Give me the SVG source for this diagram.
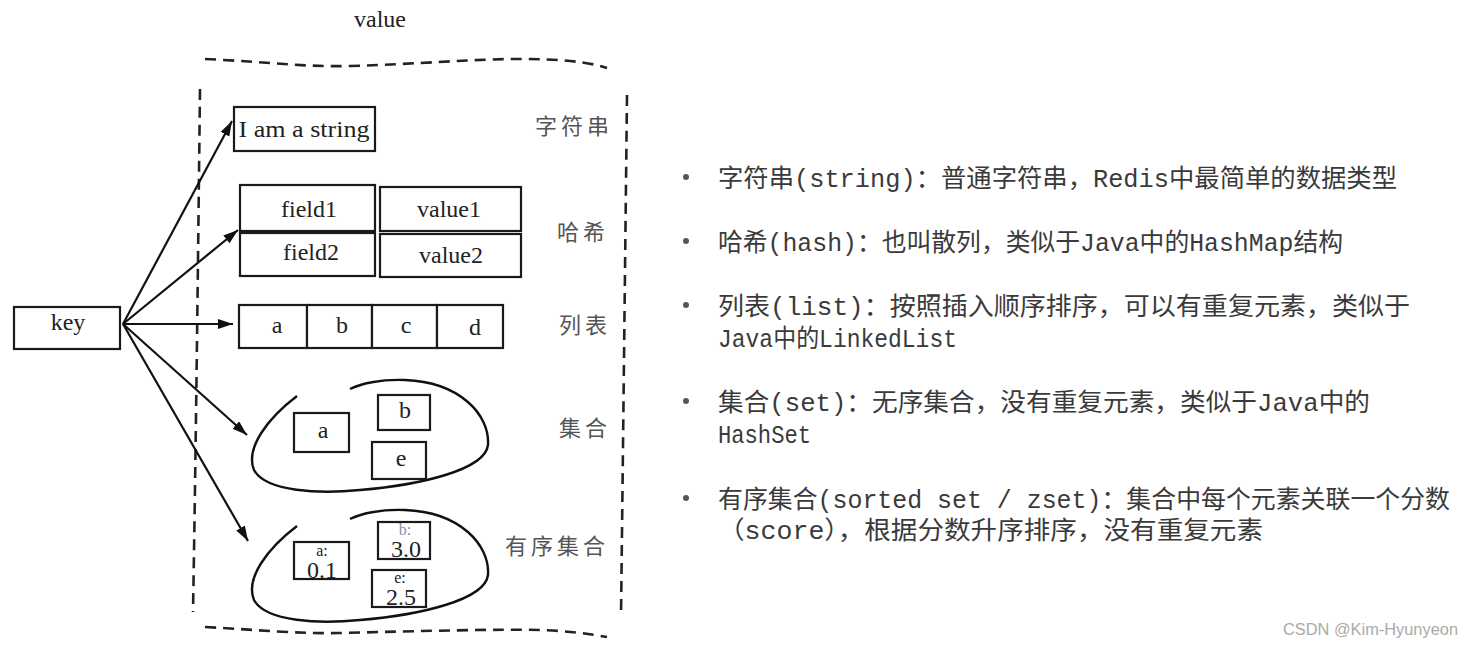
<svg xmlns="http://www.w3.org/2000/svg" width="1473" height="648" viewBox="0 0 1473 648">
<defs>
<marker id="ah" markerUnits="userSpaceOnUse" markerWidth="16" markerHeight="12" refX="15" refY="5" orient="auto">
<path d="M0,0 L15,5 L0,10 z" fill="#111"/>
</marker>
<style>
.box{fill:#fff;stroke:#1a1a1a;stroke-width:2.2}
.blob{fill:none;stroke:#111;stroke-width:2.4}
.dash{fill:none;stroke:#222;stroke-width:2.6;stroke-dasharray:11 7}
.lbl{font-family:"Liberation Serif",serif;font-size:24px;fill:#222;text-anchor:middle}
.small{font-size:16px}
.blue{fill:#7f8fb8}
.cn{font-family:"Noto Sans CJK SC",sans-serif;font-size:22px;fill:#555;letter-spacing:4px}
.desc{font-family:"Liberation Mono","Noto Sans CJK SC",monospace;font-size:25px;fill:#3a3a3a}
.conn{fill:none;stroke:#111;stroke-width:2.2;marker-end:url(#ah)}
</style>
</defs>
<rect width="1473" height="648" fill="#fff"/>

<text class="lbl" x="380" y="27" font-size="23">value</text>

<g id="frame">
<path class="dash" d="M205,59 C270,62 300,67 350,66 C420,64 470,59 520,59 C560,59 590,62 607,68"/>
<path class="dash" d="M205,627 C260,630 300,634 340,633 C420,631 500,629 540,630 C570,631 590,634 607,637"/>
<path class="dash" d="M200,89 C198,260 196,440 193,612"/>
<path class="dash" d="M627,95 C625,270 623,450 621,617"/>
</g>

<g id="labels">
<text class="cn" x="535" y="134">字符串</text>
<text class="cn" x="557" y="240">哈希</text>
<text class="cn" x="559" y="333">列表</text>
<text class="cn" x="559" y="436">集合</text>
<text class="cn" x="505" y="554">有序集合</text>
</g>

<g id="key">
<rect class="box" x="14" y="307" width="106" height="42"/>
<text class="lbl" x="68" y="330">key</text>
</g>

<g id="string">
<rect class="box" x="234" y="107" width="141" height="44"/>
<text class="lbl" x="304" y="137" font-size="26" textLength="131" lengthAdjust="spacingAndGlyphs">I am a string</text>
</g>

<g id="hash">
<rect class="box" x="240" y="185" width="135" height="46"/>
<rect class="box" x="380" y="187" width="141" height="44"/>
<rect class="box" x="240" y="233" width="135" height="43"/>
<rect class="box" x="380" y="234" width="141" height="43"/>
<text class="lbl" x="309" y="217">field1</text>
<text class="lbl" x="449" y="217">value1</text>
<text class="lbl" x="311" y="260">field2</text>
<text class="lbl" x="451" y="263">value2</text>
</g>

<g id="list">
<rect class="box" x="239" y="305" width="68" height="43"/>
<rect class="box" x="307" y="305" width="65" height="43"/>
<rect class="box" x="372" y="305" width="65" height="43"/>
<rect class="box" x="437" y="305" width="66" height="43"/>
<text class="lbl" x="277" y="333">a</text>
<text class="lbl" x="342" y="333">b</text>
<text class="lbl" x="406" y="333">c</text>
<text class="lbl" x="475" y="335">d</text>
</g>

<g id="set">
<path class="blob" d="M297,396 C268,418 245,448 254,470 C266,492 320,494 360,490 C420,485 485,470 488,445 C490,415 460,382 405,380 C380,379 360,384 350,389"/>
<rect class="box" x="294" y="413" width="55" height="39"/>
<rect class="box" x="378" y="395" width="52" height="35"/>
<rect class="box" x="372" y="442" width="54" height="37"/>
<text class="lbl" x="323" y="438">a</text>
<text class="lbl" x="405" y="418">b</text>
<text class="lbl" x="401" y="466">e</text>
</g>

<g id="zset">
<path class="blob" d="M297,526 C268,548 245,578 254,600 C266,622 320,624 360,620 C420,615 485,600 488,575 C490,545 460,512 405,510 C380,509 360,514 350,519"/>
<rect class="box" x="294" y="542" width="55" height="37"/>
<rect class="box" x="378" y="522" width="52" height="37"/>
<rect class="box" x="372" y="570" width="54" height="37"/>
<text class="lbl small" x="322" y="556">a:</text>
<text class="lbl" x="322" y="578" font-size="24">0.1</text>
<text class="lbl small blue" x="405" y="535">b:</text>
<text class="lbl" x="406" y="557" font-size="24">3.0</text>
<text class="lbl small" x="400" y="583">e:</text>
<text class="lbl" x="401" y="605" font-size="24">2.5</text>
</g>

<g id="connectors">
<path class="conn" d="M123,324 L232,121"/>
<path class="conn" d="M123,324 L238,230"/>
<path class="conn" d="M123,324 L233,324"/>
<path class="conn" d="M123,324 L247,435"/>
<path class="conn" d="M123,324 L248,541"/>
</g>

<g id="description">
<g fill="#555">
<circle cx="686" cy="177" r="3"/>
<circle cx="686" cy="241" r="3"/>
<circle cx="686" cy="305" r="3"/>
<circle cx="686" cy="401" r="3"/>
<circle cx="686" cy="498" r="3"/>
</g>
<text class="desc" x="718" y="187" textLength="679" lengthAdjust="spacingAndGlyphs">字符串(string)：普通字符串，Redis中最简单的数据类型</text>
<text class="desc" x="718" y="251" textLength="625" lengthAdjust="spacingAndGlyphs">哈希(hash)：也叫散列，类似于Java中的HashMap结构</text>
<text class="desc" x="718" y="315" textLength="692" lengthAdjust="spacingAndGlyphs">列表(list)：按照插入顺序排序，可以有重复元素，类似于</text>
<text class="desc" x="718" y="347" textLength="239" lengthAdjust="spacingAndGlyphs">Java中的LinkedList</text>
<text class="desc" x="718" y="411" textLength="652" lengthAdjust="spacingAndGlyphs">集合(set)：无序集合，没有重复元素，类似于Java中的</text>
<text class="desc" x="718" y="443" textLength="93" lengthAdjust="spacingAndGlyphs">HashSet</text>
<text class="desc" x="718" y="508" textLength="732" lengthAdjust="spacingAndGlyphs">有序集合(sorted set / zset)：集合中每个元素关联一个分数</text>
<text class="desc" x="718" y="539" textLength="545" lengthAdjust="spacingAndGlyphs">（score），根据分数升序排序，没有重复元素</text>
</g>

<text x="1283" y="635" font-family="Liberation Sans, sans-serif" font-size="16" fill="#aaa" textLength="175" lengthAdjust="spacingAndGlyphs">CSDN @Kim-Hyunyeon</text>
</svg>
